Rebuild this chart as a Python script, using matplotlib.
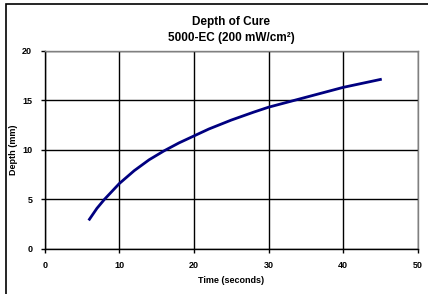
import matplotlib
matplotlib.use('Agg')
import matplotlib.pyplot as plt
from matplotlib.patches import Rectangle

time_s = [6, 7, 8, 9, 10, 12, 14, 16, 18, 20, 22, 25, 28, 30, 33, 36, 40, 45]
depth_mm = [3.0, 4.1, 5.0, 5.8, 6.6, 7.9, 9.0, 9.9, 10.7, 11.4, 12.1, 13.0,
            13.8, 14.3, 14.9, 15.5, 16.3, 17.1]
x_ticks = [0, 10, 20, 30, 40, 50]
y_ticks = [0, 5, 10, 15, 20]

plt.rcParams['font.family'] = ['Liberation Sans', 'DejaVu Sans']

W, H = 428, 294
fig = plt.figure(figsize=(W / 100, H / 100), dpi=100)

# chart area border (cut off at right / bottom in the reference)
fig.patches.append(Rectangle((6 / W, -0.05), 1.2, 1 - 4 / H + 0.05,
                             transform=fig.transFigure, fill=False,
                             edgecolor='black', linewidth=1.2))

ax = fig.add_axes([44.7 / W, 1 - 249 / H, (417.7 - 44.7) / W, (249 - 50.7) / H])
ax.plot(time_s, depth_mm, color='#000080', linewidth=2)

ax.set_xlim(0, 50)
ax.set_ylim(0, 20)
ax.set_xticks(x_ticks)
ax.set_yticks(y_ticks)
ax.grid(True, color='black', linewidth=1)
ax.set_axisbelow(True)

for s in ['top', 'right']:
    ax.spines[s].set_color('#808080')
    ax.spines[s].set_linewidth(1)
for s in ['left', 'bottom']:
    ax.spines[s].set_color('black')
    ax.spines[s].set_linewidth(1)

ax.tick_params(direction='out', length=3, width=1, labelsize=6.5, pad=6)
for lab in ax.get_xticklabels() + ax.get_yticklabels():
    lab.set_fontweight('bold')

ax.set_xlabel('Time (seconds)', fontsize=6.5, fontweight='bold', labelpad=4)
ax.set_ylabel('Depth (mm)', fontsize=6.5, fontweight='bold')
ax.yaxis.set_label_coords((18 - 44.7) / 373, 0.5)

fig.text(231 / W, 1 - 22 / H, 'Depth of Cure', ha='center', va='center',
         fontsize=8.5, fontweight='bold')
fig.text(231 / W, 1 - 38 / H, '5000-EC (200 mW/cm²)', ha='center',
         va='center', fontsize=8.5, fontweight='bold')

fig.savefig('out.png', dpi=100)
